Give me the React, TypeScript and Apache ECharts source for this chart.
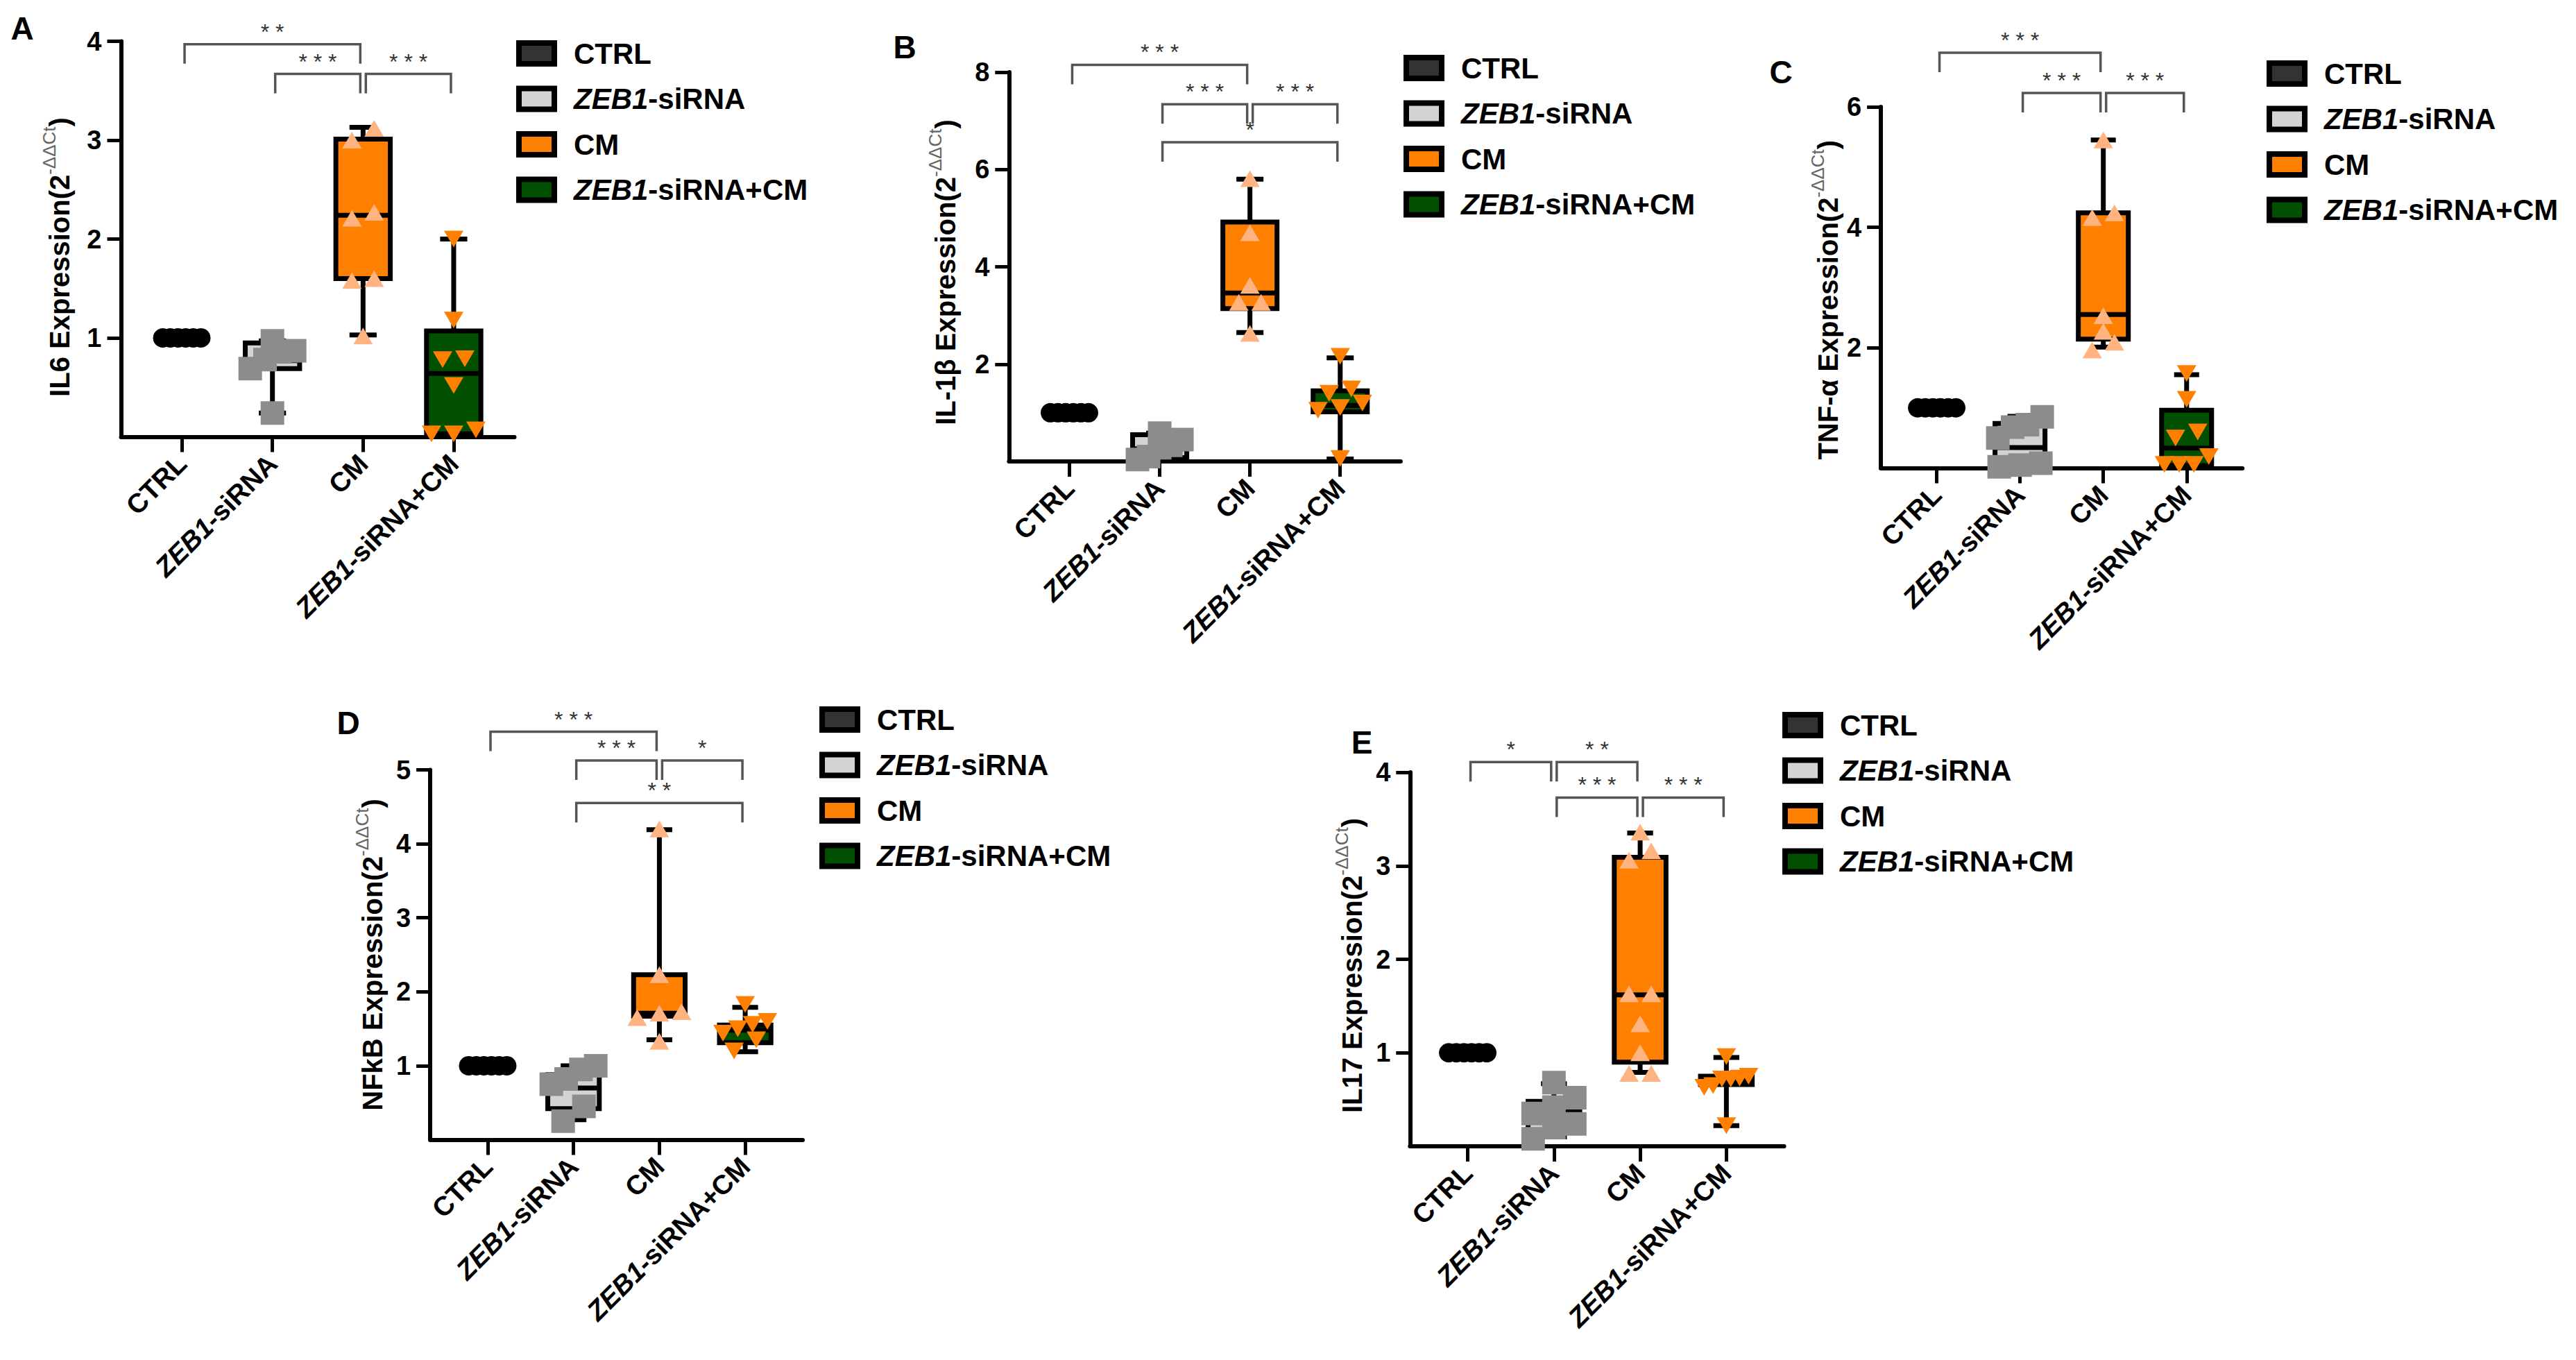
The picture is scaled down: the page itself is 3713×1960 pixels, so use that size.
import React, { useEffect, useRef } from 'react';
import * as echarts from 'echarts';

const GROUPS = ['CTRL', 'ZEB1-siRNA', 'CM', 'ZEB1-siRNA+CM'];

// ---- Panel A : IL6 ----
const il6Ticks = [1, 2, 3, 4];
const il6Ctrl = [1, 1, 1, 1, 1, 1];
const il6Zeb = [0.97, 0.87, 0.86, 0.78, 0.69, 0.24];
const il6Cm = [3.12, 3.0, 2.27, 2.21, 1.6, 1.58, 1.02];
const il6ZebCm = [2.0, 1.18, 0.79, 0.78, 0.52, 0.07, 0.03, 0.03];
// [min, Q1, median, Q3, max]
const il6Boxes = [[1, 1, 1, 1, 1], [0.24, 0.69, 0.77, 0.95, 0.97], [1.03, 1.6, 2.24, 3.01, 3.13], [0.02, 0.03, 0.64, 1.07, 2.0]];
const il6Sig = [[0, 2, 3.97, '**'], [1, 2, 3.67, '***'], [2, 3, 3.67, '***']];

// ---- Panel B : IL-1β ----
const il1bTicks = [2, 4, 6, 8];
const il1bCtrl = [1, 1, 1, 1, 1, 1];
const il1bZeb = [0.58, 0.45, 0.33, 0.28, 0.1, 0.04];
const il1bCm = [5.81, 4.7, 3.62, 3.27, 3.27, 2.63];
const il1bZebCm = [2.16, 1.49, 1.4, 1.2, 1.11, 1.05, 0.06];
const il1bBoxes = [[1, 1, 1, 1, 1], [0.04, 0.08, 0.26, 0.55, 0.58], [2.65, 3.14, 3.46, 4.92, 5.8], [0.05, 1.02, 1.15, 1.45, 2.13]];
const il1bSig = [[0, 2, 8.15, '***'], [1, 2, 7.34, '***'], [2, 3, 7.34, '***'], [1, 3, 6.56, '*']];

// ---- Panel C : TNF-α ----
const tnfTicks = [2, 4, 6];
const tnfCtrl = [1, 1, 1, 1, 1, 1];
const tnfZeb = [0.85, 0.72, 0.68, 0.5, 0.08, 0.05, 0.02];
const tnfCm = [5.45, 4.24, 4.16, 2.53, 2.27, 2.09, 1.96];
const tnfZebCm = [1.57, 1.14, 0.6, 0.5, 0.19, 0.06, 0.06, 0.06];
const tnfBoxes = [[1, 1, 1, 1, 1], [0.02, 0.1, 0.34, 0.74, 0.86], [2.01, 2.14, 2.55, 4.24, 5.45], [0.02, 0.04, 0.33, 0.96, 1.55]];
const tnfSig = [[0, 2, 6.9, '***'], [1, 2, 6.23, '***'], [2, 3, 6.23, '***']];

// ---- Panel D : NFkB ----
const nfkbTicks = [1, 2, 3, 4, 5];
const nfkbCtrl = [1, 1, 1, 1, 1, 1];
const nfkbZeb = [1.0, 0.95, 0.82, 0.75, 0.45, 0.25];
const nfkbCm = [4.2, 2.23, 1.73, 1.71, 1.65, 1.33];
const nfkbZebCm = [1.83, 1.6, 1.56, 1.5, 1.44, 1.35, 1.2];
const nfkbBoxes = [[1, 1, 1, 1, 1], [0.27, 0.42, 0.7, 0.88, 1.0], [1.35, 1.67, 1.71, 2.23, 4.19], [1.19, 1.31, 1.48, 1.55, 1.79]];
const nfkbSig = [[0, 2, 5.515, '***'], [1, 2, 5.127, '***'], [2, 3, 5.127, '*'], [1, 3, 4.553, '**']];

// ---- Panel E : IL17 ----
const il17Ticks = [1, 2, 3, 4];
const il17Ctrl = [1, 1, 1, 1, 1, 1];
const il17Zeb = [0.68, 0.52, 0.42, 0.35, 0.24, 0.2, 0.08];
const il17Cm = [3.36, 3.16, 3.06, 1.63, 1.63, 1.31, 1.0, 0.78, 0.78];
const il17ZebCm = [0.96, 0.75, 0.73, 0.72, 0.72, 0.65, 0.63, 0.22];
const il17Boxes = [[1, 1, 1, 1, 1], [0.1, 0.15, 0.39, 0.48, 0.67], [0.79, 0.9, 1.62, 3.09, 3.35], [0.22, 0.66, 0.7, 0.75, 0.95]];
const il17Sig = [[0, 1, 4.11, '*'], [1, 2, 4.11, '**'], [1, 2, 3.73, '***'], [2, 3, 3.73, '***']];

// ---- styles ----
const FONT = '"Liberation Sans", Arial, Helvetica, sans-serif';
const BOX_FILL = ['#333333', '#d3d3d3', '#ff8000', '#005000'];
const PT_COLOR = ['#000000', '#8c8c8c', '#ffb380', '#ff8000'];
const PT_SYMBOL = ['circle', 'rect', 'triangle', 'triangle'];
const PT_ROT = [0, 0, 0, 180];
const PT_SIZE = [[28, 28], [34, 34], [28, 24], [28, 24]];
const PT_STEP = [11, 30, 32, 32];
const X_MIN = -0.67;
const X_MAX = 3.67;
const BOX_W = 0.6;
const CAP_W = 0.3;

const PANELS = [
  { key: 'A', title: 'IL6', max: 4, ticks: il6Ticks, values: [il6Ctrl, il6Zeb, il6Cm, il6ZebCm], boxes: il6Boxes, sig: il6Sig,
    grid: { left: 174.5, top: 59.5, width: 567, height: 570 }, letter: [32, 41], legend: [740, 77], nameGap: 69, shift: 26 },
  { key: 'B', title: 'IL-1β', max: 8, ticks: il1bTicks, values: [il1bCtrl, il1bZeb, il1bCm, il1bZebCm], boxes: il1bBoxes, sig: il1bSig,
    grid: { left: 1454.3, top: 104, width: 564.6, height: 561 }, letter: [1304, 68], legend: [2019, 98], nameGap: 71, shift: 8 },
  { key: 'C', title: 'TNF-α', max: 6, ticks: tnfTicks, values: [tnfCtrl, tnfZeb, tnfCm, tnfZebCm], boxes: tnfBoxes, sig: tnfSig,
    grid: { left: 2711.1, top: 154, width: 521.1, height: 520.5 }, letter: [2567, 104], legend: [3263, 106], nameGap: 56, shift: 18 },
  { key: 'D', title: 'NFkB', max: 5, ticks: nfkbTicks, values: [nfkbCtrl, nfkbZeb, nfkbCm, nfkbZebCm], boxes: nfkbBoxes, sig: nfkbSig,
    grid: { left: 620.1, top: 1109.5, width: 536.9, height: 533 }, letter: [502, 1042], legend: [1177, 1037], nameGap: 63, shift: 0 },
  { key: 'E', title: 'IL17', max: 4, ticks: il17Ticks, values: [il17Ctrl, il17Zeb, il17Cm, il17ZebCm], boxes: il17Boxes, sig: il17Sig,
    grid: { left: 2032.3, top: 1113, width: 539.3, height: 539 }, letter: [1963, 1070], legend: [2565, 1045], nameGap: 63, shift: 9 },
];

function swarmOffsets(vals: number[], pxPerY: number, pxPerX: number, symH: number, stepPx: number) {
  const idx = vals.map((_, i) => i).sort((a, b) => vals[a] - vals[b]);
  const out = new Array(vals.length).fill(0);
  let cluster: number[] = [];
  const flush = () => {
    const k = cluster.length;
    const step = k > 1 ? Math.min(stepPx, 64 / (k - 1)) : 0;
    cluster.forEach((id, j) => { out[id] = ((j - (k - 1) / 2) * step) / pxPerX; });
    cluster = [];
  };
  for (const id of idx) {
    if (cluster.length && (vals[id] - vals[cluster[0]]) * pxPerY > symH * 0.9) flush();
    cluster.push(id);
  }
  flush();
  return out;
}

const xLabel = (v: number) => {
  const g = GROUPS[Math.round(v)];
  if (!g) return '';
  if (g.startsWith('ZEB1')) return '{i|ZEB1}{n|' + g.slice(4) + '}';
  return '{n|' + g + '}';
};
const legendLabel = (g: string) => (g.startsWith('ZEB1') ? '{li|ZEB1}{ln|' + g.slice(4) + '}' : '{lp|' + g + '}');

function buildOption() {
  const series: any[] = [];
  PANELS.forEach((p, pi) => {
    const pxPerY = p.grid.height / p.max;
    const pxPerX = p.grid.width / (X_MAX - X_MIN);
    series.push({
      type: 'custom', name: 'box' + p.key, xAxisIndex: pi, yAxisIndex: pi, z: 2, clip: false, silent: true,
      encode: { x: 0, y: [1, 2, 3, 4, 5] },
      data: p.boxes.map((b, g) => [g, ...b]),
      renderItem: (params: any, api: any) => {
        const g = api.value(0);
        const x = api.coord([g, api.value(3)])[0];
        const y = (v: number) => api.coord([g, v])[1];
        const yMin = y(api.value(1)), yQ1 = y(api.value(2)), yMed = y(api.value(3)), yQ3 = y(api.value(4)), yMax = y(api.value(5));
        const hw = api.size([BOX_W, 0])[0] / 2;
        const hc = api.size([CAP_W, 0])[0] / 2;
        const ls = { stroke: '#000', lineWidth: 7 };
        return {
          type: 'group',
          children: [
            { type: 'line', shape: { x1: x, y1: yMax, x2: x, y2: yQ3 }, style: ls },
            { type: 'line', shape: { x1: x, y1: yQ1, x2: x, y2: yMin }, style: ls },
            { type: 'line', shape: { x1: x - hc, y1: yMax, x2: x + hc, y2: yMax }, style: ls },
            { type: 'line', shape: { x1: x - hc, y1: yMin, x2: x + hc, y2: yMin }, style: ls },
            { type: 'rect', shape: { x: x - hw, y: yQ3, width: hw * 2, height: yQ1 - yQ3 }, style: { fill: BOX_FILL[g], stroke: '#000', lineWidth: 7 } },
            { type: 'line', shape: { x1: x - hw, y1: yMed, x2: x + hw, y2: yMed }, style: ls },
          ],
        };
      },
    });
    p.values.forEach((vals, g) => {
      const offs = swarmOffsets(vals, pxPerY, pxPerX, PT_SIZE[g][1], PT_STEP[g]);
      series.push({
        type: 'scatter', name: GROUPS[g], xAxisIndex: pi, yAxisIndex: pi, z: 3, clip: false, silent: true,
        symbol: PT_SYMBOL[g], symbolSize: PT_SIZE[g], symbolRotate: PT_ROT[g],
        itemStyle: { color: PT_COLOR[g], opacity: 1 },
        data: vals.map((v, k) => [g + offs[k], v]),
      });
    });
    series.push({
      type: 'custom', name: 'sig' + p.key, xAxisIndex: pi, yAxisIndex: pi, z: 4, clip: false, silent: true,
      encode: { x: [0, 1], y: 2 },
      data: p.sig.map((s) => [s[0], s[1], s[2]]),
      renderItem: (params: any, api: any) => {
        const a = api.coord([api.value(0), api.value(2)]);
        const b = api.coord([api.value(1), api.value(2)]);
        const x1 = a[0] + 4, x2 = b[0] - 4, yy = a[1];
        const label = String(p.sig[params.dataIndex][3]).split('').join(' ');
        return {
          type: 'group',
          children: [
            { type: 'polyline', shape: { points: [[x1, yy + 28], [x1, yy], [x2, yy], [x2, yy + 28]] }, style: { stroke: '#555', lineWidth: 3.5, fill: 'none' } },
            { type: 'text', style: { x: (x1 + x2) / 2, y: yy - 2, text: label, fill: '#333', fontSize: 32, fontFamily: FONT, align: 'center', verticalAlign: 'bottom' } },
          ],
        };
      },
    });
  });

  return {
    animation: false,
    backgroundColor: '#ffffff',
    textStyle: { fontFamily: FONT },
    grid: PANELS.map((p) => ({ ...p.grid, containLabel: false })),
    xAxis: PANELS.map((p, pi) => ({
      type: 'value', gridIndex: pi, min: X_MIN, max: X_MAX,
      splitLine: { show: false },
      axisLine: { show: true, onZero: false, lineStyle: { color: '#000', width: 6 } },
      axisTick: { show: true, customValues: [0, 1, 2, 3], length: 22, lineStyle: { color: '#000', width: 5 } },
      axisLabel: {
        show: true, customValues: [0, 1, 2, 3], rotate: 45, align: 'right', verticalAlign: 'middle', margin: 32,
        formatter: xLabel,
        rich: {
          i: { fontStyle: 'italic', fontWeight: 'bold', fontSize: 39, fontFamily: FONT, color: '#000' },
          n: { fontWeight: 'bold', fontSize: 39, fontFamily: FONT, color: '#000' },
        },
      },
    })),
    yAxis: PANELS.map((p, pi) => ({
      type: 'value', gridIndex: pi, min: 0, max: p.max,
      splitLine: { show: false },
      axisLine: { show: true, onZero: false, lineStyle: { color: '#000', width: 6 } },
      axisTick: { show: true, customValues: p.ticks, length: 20, lineStyle: { color: '#000', width: 5 } },
      axisLabel: { show: true, customValues: p.ticks, fontSize: 38, fontWeight: 'bold', color: '#000', fontFamily: FONT, margin: 28 },
      name: '{t|' + p.title + ' Expression(2}{s|-ΔΔCt}{t|)}',
      nameLocation: 'middle', nameRotate: 90, nameGap: p.nameGap,
      nameTextStyle: {
        padding: [0, p.shift * 2, 0, 0],
        rich: {
          t: { fontSize: 40, fontWeight: 'bold', color: '#000', fontFamily: FONT, lineHeight: 48, verticalAlign: 'bottom' },
          s: { fontSize: 26, color: '#666', fontFamily: FONT, lineHeight: 30, verticalAlign: 'top' },
        },
      },
    })),
    legend: PANELS.map((p) => ({
      orient: 'vertical', left: p.legend[0] + 4, top: p.legend[1] - 21, padding: 0,
      itemWidth: 51, itemHeight: 30, itemGap: 23.5, selectedMode: false,
      data: GROUPS.map((g, k) => ({ name: g, icon: 'rect', itemStyle: { color: BOX_FILL[k], borderColor: '#000', borderWidth: 8 } })),
      formatter: legendLabel,
      textStyle: {
        rich: {
          lp: { fontSize: 42, fontWeight: 'bold', color: '#000', fontFamily: FONT, lineHeight: 50, padding: [0, 0, 0, 23] },
          li: { fontSize: 42, fontWeight: 'bold', fontStyle: 'italic', color: '#000', fontFamily: FONT, lineHeight: 50, padding: [0, 0, 0, 23] },
          ln: { fontSize: 42, fontWeight: 'bold', color: '#000', fontFamily: FONT, lineHeight: 50 },
        },
      },
    })),
    graphic: PANELS.map((p) => ({
      type: 'text', x: p.letter[0], y: p.letter[1],
      style: { text: p.key, fontSize: 46, fontWeight: 'bold', fontFamily: FONT, fill: '#000', align: 'center', verticalAlign: 'middle' },
    })),
    series,
  };
}

export default function App() {
  const ref = useRef<HTMLDivElement>(null);
  useEffect(() => {
    if (!ref.current) return;
    const chart = echarts.init(ref.current, undefined, { renderer: 'svg' });
    chart.setOption(buildOption() as any);
    return () => chart.dispose();
  }, []);
  return <div ref={ref} style={{ position: 'fixed', left: 0, top: 0, width: 3713, height: 1960, background: '#fff' }} />;
}
